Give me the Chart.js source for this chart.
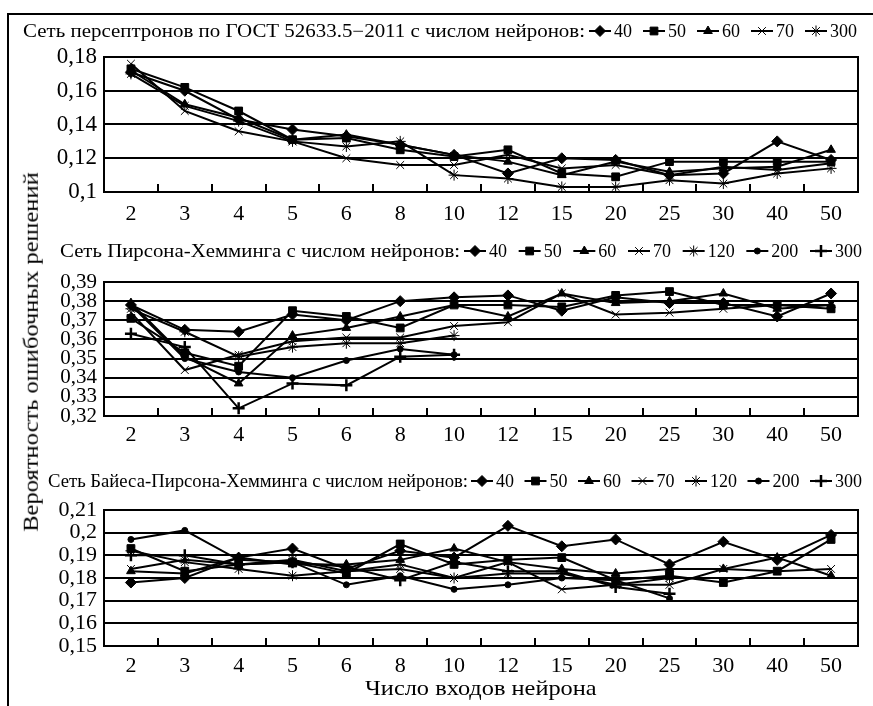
<!DOCTYPE html>
<html>
<head>
<meta charset="utf-8">
<script src="https://cdn.jsdelivr.net/npm/chart.js@4.4.0/dist/chart.umd.min.js"></script>
<style>
  body { margin: 0; background: #fff; }
  #page { position: relative; width: 873px; height: 706px; overflow: hidden; font-family: "Times New Roman", "Liberation Serif", serif; color: #000; }
  .frame { position: absolute; left: 7px; top: 13px; right: -4px; bottom: -4px; border-top: 2px solid #000; border-left: 2px solid #000; }
  .panel { position: absolute; left: 0; width: 873px; }
  .title { position: absolute; white-space: nowrap; font-size: 21px; line-height: 24px; }
</style>
</head>
<body>
<div id="page">
  <div class="frame"></div>
  <div class="panel" style="top:16px;height:214px"><canvas id="c1"></canvas></div>
  <div class="panel" style="top:230px;height:230px"><canvas id="c2"></canvas></div>
  <div class="panel" style="top:460px;height:246px"><canvas id="c3"></canvas></div>
  <div class="title" id="ytitle">Вероятность ошибочных решений</div>
  <div class="title" id="xtitle">Число входов нейрона</div>
</div>
<script>
// число входов нейрона (ось X, общая для всех трёх сетей)
const inputs = ['2', '3', '4', '5', '6', '8', '10', '12', '15', '20', '25', '30', '40', '50'];

// сеть персептронов по ГОСТ 52633.5-2011
const percSeries = ['40', '50', '60', '70', '300'];
const perc40  = [0.171, 0.160, 0.143, 0.137, 0.133, 0.128, 0.122, 0.111, 0.120, 0.119, 0.110, 0.111, 0.130, 0.119];
const perc50  = [0.173, 0.162, 0.148, 0.131, 0.132, 0.125, 0.121, 0.125, 0.111, 0.109, 0.118, 0.118, 0.118, 0.118];
const perc60  = [0.172, 0.152, 0.144, 0.131, 0.134, 0.128, 0.122, 0.118, 0.110, 0.118, 0.112, 0.114, 0.115, 0.125];
const perc70  = [0.176, 0.148, 0.136, 0.130, 0.120, 0.116, 0.116, 0.122, 0.114, 0.116, 0.110, 0.115, 0.113, 0.117];
const perc300 = [0.170, 0.151, 0.142, 0.130, 0.127, 0.130, 0.110, 0.108, 0.103, 0.103, 0.107, 0.105, 0.111, 0.114];
const percTicks = ['0,1', '0,12', '0,14', '0,16', '0,18'];

// сеть Пирсона-Хемминга
const phSeries = ['40', '50', '60', '70', '120', '200', '300'];
const ph40  = [0.378, 0.365, 0.364, 0.373, 0.370, 0.380, 0.382, 0.383, 0.375, 0.382, 0.379, 0.379, 0.372, 0.384];
const ph50  = [0.371, 0.353, 0.346, 0.375, 0.372, 0.366, 0.378, 0.378, 0.377, 0.383, 0.385, 0.378, 0.378, 0.376];
const ph60  = [0.379, 0.351, 0.337, 0.362, 0.366, 0.372, 0.378, 0.372, 0.384, 0.379, 0.380, 0.384, 0.376, 0.378];
const ph70  = [0.374, 0.344, 0.352, 0.359, 0.361, 0.361, 0.367, 0.369, 0.384, 0.373, 0.374, 0.376, 0.378, 0.378];
const ph120 = [0.376, 0.364, 0.351, 0.356, 0.358, 0.358, 0.362];
const ph200 = [0.378, 0.350, 0.343, 0.340, 0.349, 0.355, 0.352];
const ph300 = [0.363, 0.356, 0.324, 0.337, 0.336, 0.351, 0.352];
const phTicks = ['0,32', '0,33', '0,34', '0,35', '0,36', '0,37', '0,38', '0,39'];

// сеть Байеса-Пирсона-Хемминга
const bphSeries = ['40', '50', '60', '70', '120', '200', '300'];
const bph40  = [0.178, 0.180, 0.189, 0.193, 0.184, 0.192, 0.189, 0.203, 0.194, 0.197, 0.186, 0.196, 0.188, 0.199];
const bph50  = [0.193, 0.183, 0.186, 0.187, 0.182, 0.195, 0.186, 0.188, 0.189, 0.179, 0.181, 0.178, 0.183, 0.197];
const bph60  = [0.183, 0.182, 0.189, 0.186, 0.186, 0.188, 0.193, 0.187, 0.184, 0.182, 0.184, 0.184, 0.189, 0.181];
const bph70  = [0.184, 0.188, 0.186, 0.188, 0.183, 0.184, 0.180, 0.187, 0.175, 0.177, 0.177, 0.184, 0.183, 0.184];
const bph120 = [0.192, 0.187, 0.184, 0.181, 0.183, 0.186, 0.180, 0.182, 0.182, 0.177, 0.180];
const bph200 = [0.197, 0.201, 0.188, 0.187, 0.177, 0.181, 0.175, 0.177, 0.180, 0.179, 0.171];
const bph300 = [0.190, 0.190, 0.186, 0.187, 0.185, 0.179, 0.187, 0.183, 0.183, 0.176, 0.173];
const bphTicks = ['0,15', '0,16', '0,17', '0,18', '0,19', '0,2', '0,21'];

const FONT = '"Times New Roman", "Liberation Serif", serif';

// маркеры по числу нейронов
const markers = {
  '40':  { pointStyle: 'rectRot', pointRadius: 5.5, pointBorderWidth: 1 },
  '50':  { pointStyle: 'rect', pointRadius: 5.5, pointBorderWidth: 1 },
  '60':  { pointStyle: 'triangle', pointRadius: 5, pointBorderWidth: 1 },
  '70':  { pointStyle: 'crossRot', pointRadius: 5.5, pointBorderWidth: 1 },
  '120': { pointStyle: 'star', pointRadius: 5.5, pointBorderWidth: 1 },
  '200': { pointStyle: 'circle', pointRadius: 3, pointBorderWidth: 1 },
  '300': { pointStyle: 'cross', pointRadius: 6, pointBorderWidth: 2.5 }
};

function makeDatasets(names, values, starFor300) {
  return names.map((n, i) => {
    let m = Object.assign({}, markers[n]);
    if (n === '300' && starFor300) m = Object.assign({}, markers['120']);
    return Object.assign({
      label: n,
      data: values[i],
      borderColor: '#000',
      borderWidth: 2,
      pointBackgroundColor: '#000',
      pointBorderColor: '#000',
      tension: 0,
      fill: false
    }, m);
  });
}

// текст, растянутый/сжатый до нужной ширины
function fitText(ctx, text, x, y, width) {
  const w = ctx.measureText(text).width;
  ctx.save();
  ctx.translate(x, y);
  ctx.scale(width / w, 1);
  ctx.fillText(text, 0, 0);
  ctx.restore();
}

// заголовок и легенда в одну строку над графиком
const headLegend = {
  id: 'headLegend',
  afterDraw(chart, args, o) {
    const ctx = chart.ctx;
    ctx.save();
    ctx.fillStyle = '#000';
    ctx.strokeStyle = '#000';
    ctx.font = o.size + 'px ' + FONT;
    ctx.textBaseline = 'alphabetic';
    fitText(ctx, o.text, o.x, o.y, o.textEnd - o.x);

    const seg = 22;
    const items = chart.data.datasets;
    const widths = items.map(d => seg + 3 + ctx.measureText(d.label).width);
    const total = widths.reduce((s, w) => s + w, 0);
    const gap = (o.legendEnd - o.legendStart - total) / (items.length - 1);
    const my = o.y - 6;
    let cx = o.legendStart;
    items.forEach((d, i) => {
      ctx.lineWidth = 2;
      ctx.beginPath();
      ctx.moveTo(cx, my);
      ctx.lineTo(cx + seg, my);
      ctx.stroke();
      ctx.lineWidth = d.pointBorderWidth;
      Chart.helpers.drawPoint(ctx, { pointStyle: d.pointStyle, radius: d.pointRadius, borderWidth: d.pointBorderWidth, rotation: 0 }, cx + seg / 2, my);
      ctx.fillText(d.label, cx + seg + 3, o.y);
      cx += widths[i] + gap;
    });
    ctx.restore();
  }
};

// рамка области построения и короткие засечки между категориями
const frameTicks = {
  id: 'frameTicks',
  afterDatasetsDraw(chart) {
    const { ctx, chartArea: a } = chart;
    const x = chart.scales.x;
    ctx.save();
    ctx.strokeStyle = '#000';
    ctx.lineWidth = 2;
    ctx.strokeRect(a.left, a.top, a.right - a.left, a.bottom - a.top);
    ctx.beginPath();
    for (let i = 1; i < x.ticks.length; i++) {
      const px = Math.round((x.getPixelForTick(i - 1) + x.getPixelForTick(i)) / 2);
      ctx.moveTo(px, a.bottom);
      ctx.lineTo(px, a.bottom - 8);
    }
    ctx.stroke();
    ctx.restore();
  }
};

function makeChart(id, p) {
  return new Chart(document.getElementById(id), {
    type: 'line',
    data: { labels: inputs, datasets: p.datasets },
    plugins: [headLegend, frameTicks],
    options: {
      responsive: true,
      maintainAspectRatio: false,
      animation: false,
      events: [],
      layout: { padding: { top: p.top, right: 15, left: 0, bottom: 0 } },
      plugins: {
        legend: { display: false },
        tooltip: { enabled: false },
        headLegend: p.head
      },
      scales: {
        x: {
          type: 'category',
          offset: true,
          grid: { display: false },
          border: { display: false },
          ticks: { color: '#000', font: { family: FONT, size: 22 }, padding: p.xPad, maxRotation: 0, autoSkip: false },
          afterFit: s => { s.height = p.xHeight; }
        },
        y: {
          min: p.min,
          max: p.max,
          border: { display: false },
          grid: { color: '#000', lineWidth: 2, drawTicks: false },
          ticks: {
            stepSize: p.step,
            autoSkip: false,
            color: '#000',
            padding: 7,
            font: { family: FONT, size: p.tickSize, lineHeight: 1 },
            callback: (v, i) => p.ticks[i] !== undefined ? p.ticks[i] : ''
          },
          afterFit: s => { s.width = 104; }
        }
      }
    }
  });
}

makeChart('c1', {
  datasets: makeDatasets(percSeries, [perc40, perc50, perc60, perc70, perc300], true),
  min: 0.1, max: 0.18, step: 0.02, ticks: percTicks, tickSize: 23,
  top: 41, xHeight: 38, xPad: 1,
  head: { text: 'Сеть персептронов по ГОСТ 52633.5−2011 с числом нейронов:', size: 18, x: 23, textEnd: 585, y: 21, legendStart: 589, legendEnd: 857 }
});

makeChart('c2', {
  datasets: makeDatasets(phSeries, [ph40, ph50, ph60, ph70, ph120, ph200, ph300], false),
  min: 0.32, max: 0.39, step: 0.01, ticks: phTicks, tickSize: 21,
  top: 52, xHeight: 44, xPad: -2,
  head: { text: 'Сеть Пирсона-Хемминга с числом нейронов:', size: 18, x: 60, textEnd: 460, y: 27, legendStart: 464, legendEnd: 862 }
});

makeChart('c3', {
  datasets: makeDatasets(bphSeries, [bph40, bph50, bph60, bph70, bph120, bph200, bph300], false),
  min: 0.15, max: 0.21, step: 0.01, ticks: bphTicks, tickSize: 22,
  top: 50, xHeight: 60, xPad: -1,
  head: { text: 'Сеть Байеса-Пирсона-Хемминга с числом нейронов:', size: 18, x: 48, textEnd: 468, y: 27, legendStart: 471, legendEnd: 862 }
});

// подписи осей: центр и нужная ширина строки
function placeTitle(el, cx, cy, width, rotate) {
  const w = el.offsetWidth, h = el.offsetHeight;
  el.style.left = (cx - w / 2) + 'px';
  el.style.top = (cy - h / 2) + 'px';
  el.style.transform = (rotate ? 'rotate(-90deg) ' : '') + 'scaleX(' + (width / w) + ')';
}
placeTitle(document.getElementById('ytitle'), 31, 352, 360, true);
placeTitle(document.getElementById('xtitle'), 481, 688, 232, false);
</script>
</body>
</html>
